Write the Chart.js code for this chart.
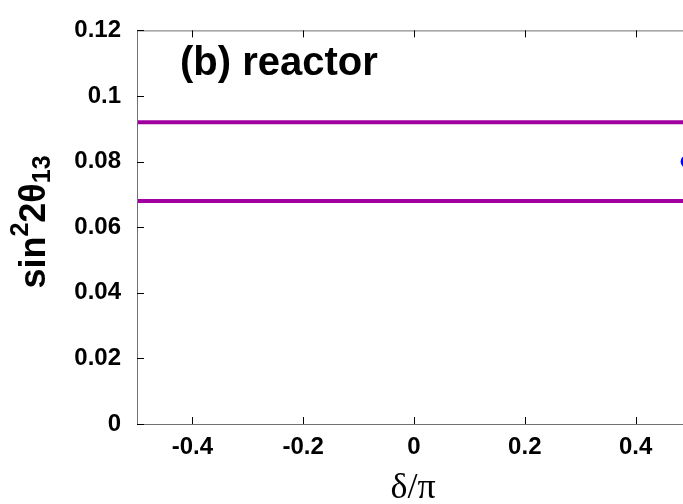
<!DOCTYPE html>
<html>
<head>
<meta charset="utf-8">
<script src="https://cdn.jsdelivr.net/npm/chart.js@4.4.1/dist/chart.umd.min.js"></script>
<style>
  html, body { margin: 0; padding: 0; background: #fff; overflow: hidden; }
  #wrap { width: 700px; height: 504px; }
</style>
</head>
<body>
<div id="wrap"><canvas id="thetaChart"></canvas></div>
<script>
// delta/pi range covered by the reactor band
const deltaRange = [-0.5, 0.5];
// reactor bounds on sin^2 2theta13
const upperBound = [0.092, 0.092];
const lowerBound = [0.068, 0.068];
// central point
const centralDelta = [0.493];
const centralValue = [0.08];

const xTicks = [-0.4, -0.2, 0, 0.2, 0.4];
const xTickLabels = ['-0.4', '-0.2', '0', '0.2', '0.4'];
const yTicks = [0, 0.02, 0.04, 0.06, 0.08, 0.1, 0.12];
const yTickLabels = ['0', '0.02', '0.04', '0.06', '0.08', '0.1', '0.12'];

const SANS = '"Liberation Sans", Arial, Helvetica, sans-serif';
const SERIF = '"Liberation Serif", "Times New Roman", serif';
const PURPLE = '#a000a0';

function toPoints(xs, ys) {
  return xs.map((v, i) => ({ x: v, y: ys[i] }));
}

// text made of pieces with their own size and baseline shift
function drawPieces(ctx, pieces, cx, baseY) {
  let total = 0;
  pieces.forEach((p) => {
    ctx.font = 'bold ' + p.size + 'px ' + SANS;
    p.w = ctx.measureText(p.t).width;
    total += p.w;
  });
  let x = cx - total / 2;
  ctx.textBaseline = 'alphabetic';
  ctx.textAlign = 'left';
  pieces.forEach((p) => {
    ctx.font = 'bold ' + p.size + 'px ' + SANS;
    ctx.fillText(p.t, x, baseY + p.dy);
    x += p.w;
  });
}

const decorations = {
  id: 'decorations',
  afterDatasetsDraw(chart) {
    const { ctx, chartArea: a, scales: { x, y } } = chart;
    ctx.save();

    // frame
    ctx.strokeStyle = '#707070';
    ctx.lineWidth = 1;
    ctx.strokeRect(a.left + 0.5, a.top + 0.5, a.right - a.left, a.bottom - a.top);

    // inward tick marks
    ctx.strokeStyle = '#000';
    ctx.beginPath();
    xTicks.forEach((v) => {
      const px = Math.round(x.getPixelForValue(v)) + 0.5;
      ctx.moveTo(px, a.bottom); ctx.lineTo(px, a.bottom - 7);
      ctx.moveTo(px, a.top); ctx.lineTo(px, a.top + 7);
    });
    yTicks.forEach((v) => {
      const py = Math.round(y.getPixelForValue(v)) + 0.5;
      ctx.moveTo(a.left, py); ctx.lineTo(a.left + 7, py);
      ctx.moveTo(a.right, py); ctx.lineTo(a.right - 7, py);
    });
    ctx.stroke();

    ctx.fillStyle = '#000';

    // panel label
    ctx.font = 'bold 40px ' + SANS;
    ctx.textAlign = 'left';
    ctx.textBaseline = 'alphabetic';
    ctx.fillText('(b) reactor', 180, 75);

    // x axis title
    ctx.font = '36px ' + SERIF;
    ctx.textAlign = 'center';
    ctx.fillText('δ/π', 413, 498);

    // y axis title, rotated
    ctx.save();
    ctx.translate(45, 222);
    ctx.rotate(-Math.PI / 2);
    drawPieces(ctx, [
      { t: 'sin', size: 36, dy: 0 },
      { t: '2', size: 25, dy: -17 },
      { t: '2θ', size: 36, dy: 0 },
      { t: '13', size: 25, dy: 5 },
    ], 0, 0);
    ctx.restore();

    ctx.restore();
  },
};

new Chart(document.getElementById('thetaChart'), {
  type: 'line',
  data: {
    datasets: [
      {
        label: 'upper',
        data: toPoints(deltaRange, upperBound),
        borderColor: PURPLE,
        borderWidth: 4,
        pointRadius: 0,
        fill: false,
      },
      {
        label: 'lower',
        data: toPoints(deltaRange, lowerBound),
        borderColor: PURPLE,
        borderWidth: 4,
        pointRadius: 0,
        fill: false,
      },
      {
        type: 'scatter',
        label: 'central',
        data: toPoints(centralDelta, centralValue),
        backgroundColor: '#0000ff',
        borderColor: '#0000ff',
        pointRadius: 6.5,
        pointBorderWidth: 0,
      },
    ],
  },
  options: {
    responsive: true,
    maintainAspectRatio: false,
    animation: false,
    layout: { padding: { top: 22, right: 9, left: 0, bottom: 0 } },
    plugins: { legend: { display: false }, tooltip: { enabled: false } },
    scales: {
      x: {
        type: 'linear',
        min: deltaRange[0],
        max: deltaRange[1],
        grid: { display: false, drawTicks: false },
        border: { display: false },
        afterBuildTicks: (s) => { s.ticks = xTicks.map((v) => ({ value: v })); },
        afterFit: (s) => { s.height = 80; },
        ticks: {
          autoSkip: false,
          maxRotation: 0,
          padding: 9,
          color: '#000',
          font: { family: SANS, size: 24, weight: 'bold' },
          callback: (v) => xTickLabels[xTicks.indexOf(v)],
        },
      },
      y: {
        type: 'linear',
        min: 0,
        max: 0.12,
        grid: { display: false, drawTicks: false },
        border: { display: false },
        afterBuildTicks: (s) => { s.ticks = yTicks.map((v) => ({ value: v })); },
        afterFit: (s) => { s.width = 137; },
        ticks: {
          autoSkip: false,
          padding: 16,
          color: '#000',
          font: { family: SANS, size: 24, weight: 'bold' },
          callback: (v) => yTickLabels[yTicks.indexOf(v)],
        },
      },
    },
  },
  plugins: [decorations],
});
</script>
</body>
</html>
